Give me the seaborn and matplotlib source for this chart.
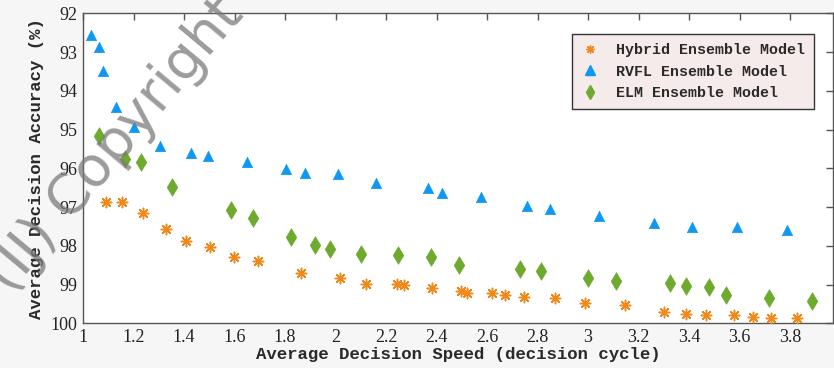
import matplotlib
matplotlib.use("Agg")
import matplotlib.pyplot as plt
import seaborn as sns
import pandas as pd
from matplotlib.lines import Line2D

# ---------------- data ----------------
hybrid_x = [1.092, 1.156, 1.239, 1.329, 1.408, 1.502, 1.597, 1.692, 1.862, 2.017,
            2.12, 2.242, 2.271, 2.382, 2.497, 2.52, 2.618, 2.671, 2.748, 2.87,
            2.987, 3.148, 3.30, 3.39, 3.466, 3.577, 3.653, 3.724, 3.827]
hybrid_y = [96.88, 96.88, 97.15, 97.56, 97.88, 98.04, 98.30, 98.39, 98.70, 98.84,
            98.99, 98.99, 99.02, 99.10, 99.16, 99.21, 99.21, 99.27, 99.32, 99.35,
            99.47, 99.53, 99.70, 99.76, 99.79, 99.79, 99.84, 99.86, 99.86]

rvfl_x = [1.03, 1.065, 1.08, 1.13, 1.20, 1.306, 1.426, 1.494, 1.648, 1.803,
          1.88, 2.01, 2.16, 2.365, 2.42, 2.577, 2.757, 2.85, 3.044, 3.26,
          3.413, 3.589, 3.79]
rvfl_y = [92.55, 92.86, 93.49, 94.41, 94.93, 95.42, 95.60, 95.68, 95.83, 96.03,
          96.13, 96.15, 96.39, 96.52, 96.63, 96.75, 96.97, 97.06, 97.22, 97.42,
          97.51, 97.51, 97.59]

elm_x = [1.065, 1.168, 1.231, 1.354, 1.585, 1.672, 1.822, 1.92, 1.978, 2.10,
         2.248, 2.377, 2.49, 2.73, 2.814, 3.0, 3.11, 3.326, 3.387, 3.48,
         3.548, 3.718, 3.888]
elm_y = [95.17, 95.77, 95.85, 96.48, 97.08, 97.27, 97.76, 97.99, 98.07, 98.21,
         98.25, 98.28, 98.50, 98.59, 98.64, 98.84, 98.90, 98.96, 99.05, 99.06,
         99.27, 99.35, 99.42]

series_names = ["Hybrid Ensemble Model", "RVFL Ensemble Model", "ELM Ensemble Model"]
x_ticks = [1, 1.2, 1.4, 1.6, 1.8, 2, 2.2, 2.4, 2.6, 2.8, 3, 3.2, 3.4, 3.6, 3.8]
x_ticklabels = ["1", "1.2", "1.4", "1.6", "1.8", "2", "2.2", "2.4", "2.6", "2.8",
                "3", "3.2", "3.4", "3.6", "3.8"]
y_ticks = [92, 93, 94, 95, 96, 97, 98, 99, 100]

# ---------------- style ----------------
sns.set_theme(style="white")
plt.rcParams["font.family"] = ["Liberation Serif", "DejaVu Serif"]

c_hyb = "#f0891c"
c_rvfl = "#0e98f5"
c_elm = "#6eaa2e"

fig = plt.figure(figsize=(8.34, 3.68), dpi=100, facecolor="#f6f6f6")
ax = fig.add_axes([83 / 834, 1 - 323.3 / 368, (833 - 83) / 834, (323.3 - 13.3) / 368])
ax.set_facecolor("white")

df_h = pd.DataFrame({"x": hybrid_x, "y": hybrid_y})
df_r = pd.DataFrame({"x": rvfl_x, "y": rvfl_y})
df_e = pd.DataFrame({"x": elm_x, "y": elm_y})

sns.scatterplot(data=df_h, x="x", y="y", ax=ax, marker=(8, 2, 0), s=55,
                color=c_hyb, edgecolor=c_hyb, linewidth=1.1, zorder=3)
sns.scatterplot(data=df_r, x="x", y="y", ax=ax, marker="^", s=55,
                color=c_rvfl, edgecolor=c_rvfl, linewidth=0.5, zorder=3)
sns.scatterplot(data=df_e, x="x", y="y", ax=ax, marker="d", s=80,
                color=c_elm, edgecolor=c_elm, linewidth=0.5, zorder=3)

ax.set_xlim(1, 1 + (833 - 83) / 252.5)
ax.set_ylim(100, 92)
ax.set_xticks(x_ticks)
ax.set_xticklabels(x_ticklabels)
ax.set_yticks(y_ticks)

for sp in ax.spines.values():
    sp.set_color("#555555")
    sp.set_linewidth(1.0)
ax.tick_params(direction="in", length=5, width=1, color="#555555",
               top=True, right=True, labelsize=13, labelcolor="#222222", pad=4)

lab_font = dict(family=["Liberation Mono", "DejaVu Sans Mono"], size=12.5,
                weight="bold", color="#2a2a2a")
ax.set_xlabel("Average Decision Speed (decision cycle)", fontdict=lab_font, labelpad=1)
ax.set_ylabel("Average Decision Accuracy (%)", fontdict=lab_font, labelpad=5)

handles = [
    Line2D([], [], linestyle="none", marker=(8, 2, 0), markersize=6,
           color=c_hyb, markeredgewidth=1.0),
    Line2D([], [], linestyle="none", marker="^", markersize=6.5,
           color=c_rvfl),
    Line2D([], [], linestyle="none", marker="d", markersize=7,
           color=c_elm),
]
leg = ax.legend(handles, series_names, loc="upper left",
                bbox_to_anchor=(572 / 834, 1 - 34 / 368), bbox_transform=fig.transFigure,
                borderaxespad=0, frameon=True, fancybox=False, framealpha=1,
                borderpad=0.6, handlelength=1.2, handletextpad=1.1, labelspacing=0.5,
                prop=dict(family=["Liberation Mono", "DejaVu Sans Mono"], size=10.8,
                          weight="bold"))
leg.get_frame().set_facecolor("#f5ebea")
leg.get_frame().set_edgecolor("#333333")
leg.get_frame().set_linewidth(1.0)
for t in leg.get_texts():
    t.set_color("#2a2a2a")

# faint watermark
fig.text(0.012, 0.2, "(IJ) Copyright", rotation=50, rotation_mode="anchor",
         fontsize=40, color="#7a7a7a", alpha=0.75, family=["DejaVu Sans"],
         ha="left", va="baseline", zorder=10)

fig.savefig("out.png", dpi=100, facecolor=fig.get_facecolor())
